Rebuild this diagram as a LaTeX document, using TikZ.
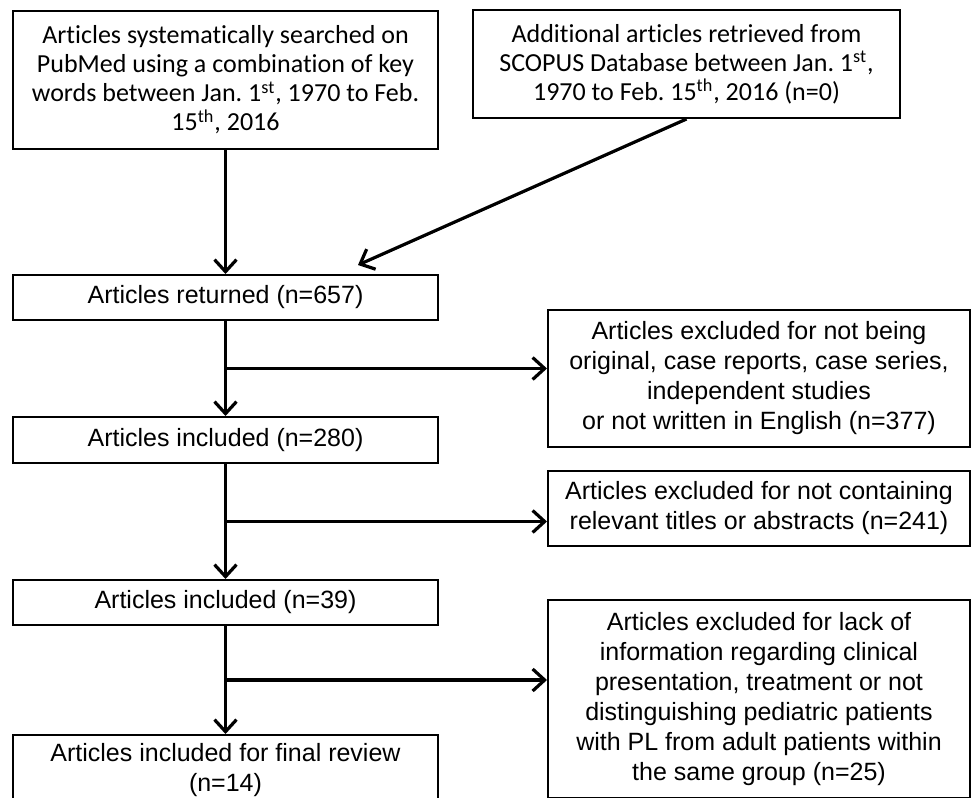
\documentclass[tikz,border=0pt]{standalone}
\usepackage{fontspec}
\setmainfont{Liberation Sans}
\newfontfamily\calibri[Ligatures=NoCommon]{Carlito}
\usetikzlibrary{positioning,arrows.meta}
\frenchspacing

\begin{document}
\begin{tikzpicture}[x=0.5pt, y=-0.5pt,
    box/.style={draw, line width=1pt, align=center, inner sep=2pt,
        font=\fontsize{12.5}{15}\selectfont},
    topbox/.style={box, font=\calibri\fontsize{13}{14.5}\selectfont},
    leftbox/.style={box, minimum width=212.5pt},
    exclbox/.style={box, anchor=north west, minimum width=211pt},
    flow/.style={line width=1.6pt, -{Straight Barb[length=6pt,width=11pt,line width=1.6pt]}}]
    \useasboundingbox (0,0) rectangle (971,798);

    % sources
    \node[topbox, anchor=north west, minimum width=212.5pt, minimum height=69pt] at (12,10) (search)
        {Articles systematically searched on\\
         PubMed using a combination of key\\
         words between Jan. 1\textsuperscript{st}, 1970 to Feb.\\
         15\textsuperscript{th}, 2016};
    \node[topbox, anchor=north west, minimum width=213.5pt, minimum height=54pt] at (472,9) (scopus)
        {Additional articles retrieved from\\
         SCOPUS Database between Jan. 1\textsuperscript{st},\\
         1970 to Feb. 15\textsuperscript{th}, 2016 (n=0)};

    % included
    \node[leftbox, minimum height=22.5pt, below=62pt of search] (returned) {Articles returned (n=657)};
    \node[leftbox, minimum height=23pt, below=47.5pt of returned] (inc280) {Articles included (n=280)};
    \node[leftbox, minimum height=22.5pt, below=57.5pt of inc280] (inc39) {Articles included (n=39)};
    \node[leftbox, minimum height=35.5pt, below=54pt of inc39] (final)
        {Articles included for final review\\ (n=14)};

    % excluded
    \node[exclbox, minimum height=68.5pt] at (547,309) (excl1)
        {Articles excluded for not being\\
         original, case reports, case series,\\
         independent studies\\
         or not written in English (n=377)};
    \node[exclbox, minimum height=37.5pt] at (547,470) (excl2)
        {Articles excluded for not containing\\
         relevant titles or abstracts (n=241)};
    \node[exclbox, minimum height=99pt] at (547,599) (excl3)
        {Articles excluded for lack of\\
         information regarding clinical\\
         presentation, treatment or not\\
         distinguishing pediatric patients\\
         with PL from adult patients within\\
         the same group (n=25)};

    \coordinate (join) at (358,265);
    \path (returned) -- coordinate[midway] (b1) (inc280);
    \path (inc280) -- coordinate[midway] (b2) (inc39);
    \path (inc39) -- coordinate[midway] (b3) (final);

    \draw[flow] (search) -- (returned);
    \draw[flow] (scopus.south) -- (join);
    \draw[flow] (returned) -- (inc280);
    \draw[flow] (inc280) -- (inc39);
    \draw[flow] (inc39) -- (final);
    \draw[flow] (b1) -- (b1 -| excl1.west);
    \draw[flow] (b2) -- (b2 -| excl2.west);
    \draw[flow] (b3) -- (b3 -| excl3.west);
\end{tikzpicture}
\end{document}
